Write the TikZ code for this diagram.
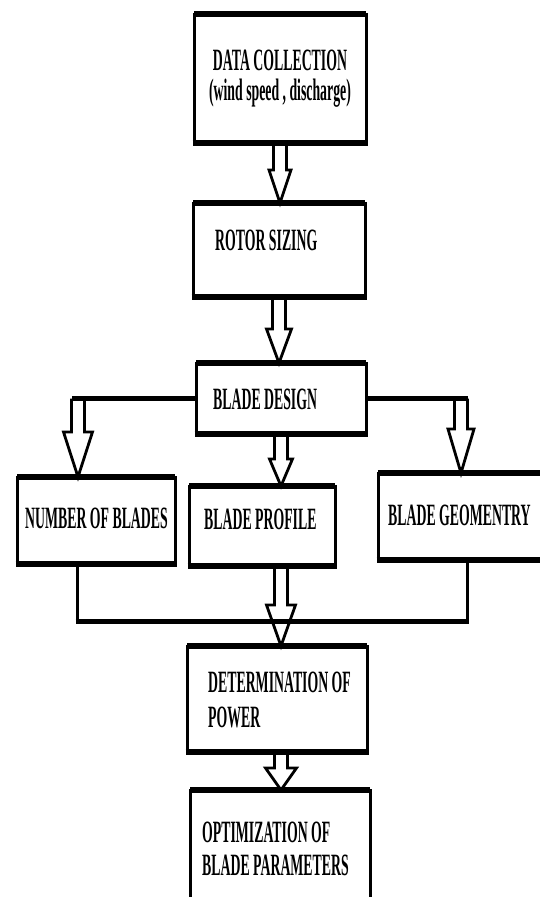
\documentclass[tikz,border=0pt]{standalone}
\usepackage{fontspec}
\usetikzlibrary{calc}
\newfontfamily\flowfont{Liberation Serif}[FakeStretch=0.445]

\tikzset{
  stage/.style={draw, line width=3pt, inner sep=0pt, outer sep=0pt},
  caption/.style={font=\flowfont\bfseries\fontsize{31}{34}\selectfont, inner sep=0pt},
  hollow/.style={draw, line width=2.8pt, line join=miter},
  feed/.style={draw, line width=3pt},
  bar/.style={draw, line width=5pt}
}
% open block arrow: from, to, head length, head half width
\newcommand{\hollowarrow}[4]{%
  \draw[hollow] let \p1=(#1), \p2=(#2) in
    (\x1-6.5pt,\y1) -- (\x1-6.5pt,\y2+#3) -- (\x1-#4,\y2+#3) -- (\x1,\y2)
    -- (\x1+#4,\y2+#3) -- (\x1+6.5pt,\y2+#3) -- (\x1+6.5pt,\y1);}

\begin{document}
\begin{tikzpicture}[x=1pt,y=1pt]
  \useasboundingbox (0,0) rectangle (539,-897);
  % boxes
  \node[stage, minimum width=172, minimum height=129] (data) at (280,-78.5) {};
  \node[stage, minimum width=172, minimum height=94] (rotor) at (279,-250) {};
  \node[stage, minimum width=170, minimum height=71] (design) at (281,-398.5) {};
  \node[stage, minimum width=158, minimum height=87] (number) at (96,-520.5) {};
  \node[stage, minimum width=146, minimum height=80] (profile) at (262,-526) {};
  \node[stage, minimum width=170, minimum height=87] (geom) at (463,-516.5) {};
  \node[stage, minimum width=180, minimum height=106] (power) at (277,-699) {};
  \node[stage, minimum width=180, minimum height=120] (optim) at (280,-850) {};
  \foreach \s in {data,rotor,design,number,profile,geom,power,optim}
    \draw[line width=5.5pt, shorten <=-1.5pt, shorten >=-1.5pt]
      (\s.north west) -- (\s.north east) (\s.south west) -- (\s.south east);
  % texts
  \node[caption, align=center] (datat) at (280,-78.5) {DATA COLLECTION\\[-4pt](wind speed , discharge)};
  \node[caption, anchor=base west] (rotort) at (215,-250) {ROTOR SIZING};
  \node[caption, anchor=base west] (designt) at (213,-409) {BLADE DESIGN};
  \node[caption, anchor=base west] (numbert) at (25,-528) {NUMBER OF BLADES};
  \node[caption, anchor=base west] (profilet) at (204,-529) {BLADE PROFILE};
  \node[caption, anchor=base west] (geomt) at (388,-525) {BLADE GEOMENTRY};
  \node[caption, anchor=west, align=left] (powert) at (208,-699.5) {DETERMINATION OF\\[1pt]POWER};
  \node[caption, anchor=west, align=left] (optimt) at (202,-848.5) {OPTIMIZATION OF\\[-1pt]BLADE PARAMETERS};
  % branches
  \coordinate (lb) at (78,-398.5);
  \coordinate (rb) at (461,-398.5);
  \coordinate (ml) at (77,-621);
  \coordinate (mr) at (467,-621);
  \draw[bar] (design.west) -- ([xshift=-6.5pt]lb);
  \draw[bar] (design.east) -- ([xshift=6.5pt]rb);
  \draw[feed] (ml |- number.south) -- (ml);
  \draw[feed] (mr |- geom.south) -- (mr);
  \draw[bar] ([xshift=-1.5pt]ml) -- ([xshift=1.5pt]mr);
  % arrows
  \hollowarrow{data.south}{rotor.north}{33pt}{11pt}
  \hollowarrow{rotor.south}{design.north}{34pt}{12.5pt}
  \hollowarrow{lb}{lb |- number.north}{45pt}{14.5pt}
  \hollowarrow{design.south}{profile.north}{27pt}{11.5pt}
  \hollowarrow{rb}{rb |- geom.north}{44pt}{13pt}
  \hollowarrow{profile.south -| design.south}{power.north}{41pt}{14.5pt}
  \hollowarrow{power.south -| design.south}{optim.north}{22pt}{15.5pt}
\end{tikzpicture}
\end{document}
